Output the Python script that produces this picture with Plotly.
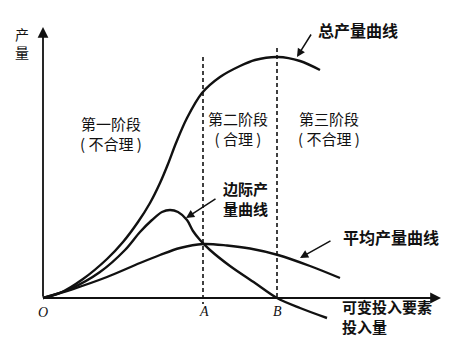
import plotly.graph_objects as go

# ---- data (schematic units: x = variable input, y = output) ----
tp_x = [0.0, 1.7, 4.0, 6.4, 8.0, 9.5, 10.7, 11.7, 12.5, 13.3, 14.4, 15.9, 17.7, 19.7, 21.2, 23.5, 25.7, 27.7]
tp_y = [0.0, 0.5, 1.9, 3.9, 5.6, 7.6, 9.5, 11.5, 13.4, 15.5, 18.0, 20.5, 22.1, 23.2, 23.8, 24.1, 23.7, 22.8]

mp_x = [0.0, 2.7, 5.7, 8.2, 9.7, 10.9, 11.9, 12.7, 13.5, 14.4, 15.0, 15.7, 16.7, 18.7, 21.2, 23.4, 25.7, 28.4]
mp_y = [0.0, 0.9, 2.6, 4.8, 6.6, 7.8, 8.6, 8.8, 8.6, 7.8, 6.7, 5.8, 4.8, 3.2, 1.5, 0.0, -1.0, -2.0]

ap_x = [0.0, 3.0, 6.4, 9.7, 11.7, 13.7, 16.0, 18.4, 20.7, 23.5, 26.7, 29.7]
ap_y = [0.0, 0.9, 2.1, 3.5, 4.3, 5.0, 5.4, 5.25, 4.95, 4.3, 3.2, 2.0]

point_A = 16.0
point_B = 23.4

W, H = 462, 339
X0, Y0, S = 43, 298, 10.0  # origin pixel and px per unit


def dx(px):
    return (px - X0) / S


def dy(py):
    return (Y0 - py) / S


fig = go.Figure()
line = dict(color="#111111", width=2.4, shape="spline", smoothing=0.9)
for xs, ys in [(tp_x, tp_y), (mp_x, mp_y), (ap_x, ap_y)]:
    fig.add_trace(go.Scatter(x=xs, y=ys, mode="lines", line=line,
                             hoverinfo="skip", showlegend=False))

# dashed stage boundaries
fig.add_shape(type="line", x0=point_A, x1=point_A, y0=dy(57), y1=dy(304),
              line=dict(color="#111111", width=1.6, dash="4px,3px"))
fig.add_shape(type="line", x0=point_B, x1=point_B, y0=dy(48), y1=0,
              line=dict(color="#111111", width=1.6, dash="4px,3px"))

ann = []
# axes with arrows
ann.append(dict(x=dx(441), y=0, ax=0, ay=0, xref="x", yref="y", axref="x", ayref="y",
                text="", showarrow=True, arrowhead=2, arrowsize=1.2, arrowwidth=1.8,
                arrowcolor="#111111", standoff=0, startstandoff=0))
ann.append(dict(x=0, y=dy(27), ax=0, ay=0, xref="x", yref="y", axref="x", ayref="y",
                text="", showarrow=True, arrowhead=2, arrowsize=1.2, arrowwidth=1.8,
                arrowcolor="#111111", standoff=0, startstandoff=0))

# callout arrows
for (tx, ty, hx, hy) in [(312, 33, 297, 57), (217, 198, 186, 218), (332, 240, 300, 258)]:
    ann.append(dict(x=dx(hx), y=dy(hy), ax=dx(tx), ay=dy(ty), xref="x", yref="y",
                    axref="x", ayref="y", text="", showarrow=True, arrowhead=2,
                    arrowsize=1.1, arrowwidth=1.5, arrowcolor="#111111", standoff=0))

cjk = "Noto Sans CJK SC"
texts = [
    ("产<br>量", 22, 43, 14, "center", "normal"),
    ("总产量曲线", 358, 30, 16, "center", "bold"),
    ("第一阶段<br>( 不合理 )", 111, 133, 15, "center", "normal"),
    ("第二阶段<br>( 合理 )", 238, 129, 15, "center", "normal"),
    ("第三阶段<br>( 不合理 )", 329, 129, 15, "center", "normal"),
    ("边际产<br>量曲线", 246, 198, 15, "center", "bold"),
    ("平均产量曲线", 391, 237, 16, "center", "bold"),
    ("可变投入要素<br>投入量", 340, 316, 15, "left", "bold"),
]
for t, x, y, s, anc, wt in texts:
    ann.append(dict(x=x / W, y=1 - y / H, xref="paper", yref="paper", text=t,
                    showarrow=False, xanchor=anc, yanchor="middle", align=anc,
                    font=dict(family=cjk, size=s, color="#111111", weight=wt)))

for t, x, y in [("O", 43, 312), ("A", 204, 311), ("B", 277, 311)]:
    ann.append(dict(x=x / W, y=1 - y / H, xref="paper", yref="paper", text="<i>" + t + "</i>",
                    showarrow=False, xanchor="center", yanchor="middle",
                    font=dict(family="Liberation Serif", size=14, color="#111111")))

fig.update_layout(
    width=W, height=H, margin=dict(l=0, r=0, t=0, b=0),
    paper_bgcolor="white", plot_bgcolor="white",
    xaxis=dict(range=[dx(0), dx(W)], visible=False, fixedrange=True),
    yaxis=dict(range=[dy(H), dy(0)], visible=False, fixedrange=True),
    annotations=ann, showlegend=False,
)
fig.write_html("out.html")
